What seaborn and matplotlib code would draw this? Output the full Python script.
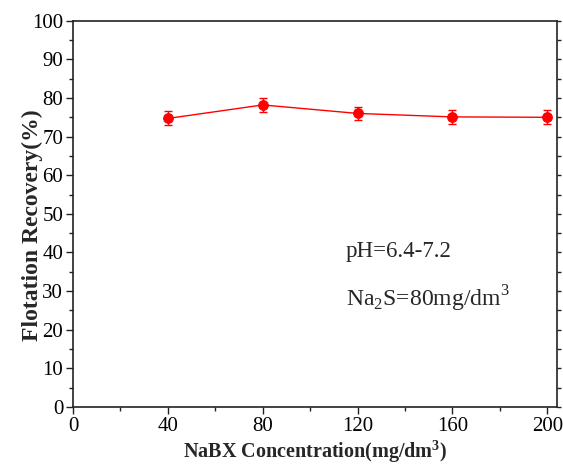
import matplotlib
matplotlib.use("Agg")
import matplotlib.pyplot as plt
import seaborn as sns
import pandas as pd
from matplotlib.ticker import MultipleLocator

concentration = [40, 80, 120, 160, 200]
recovery = [74.7, 78.2, 76.0, 75.1, 75.0]
error = [1.8, 1.8, 1.7, 1.8, 1.8]

sns.set_style("ticks")
plt.rcParams['font.family'] = ['Liberation Serif', 'DejaVu Serif']
plt.rcParams['mathtext.fontset'] = 'custom'
plt.rcParams['mathtext.rm'] = 'Liberation Serif'
plt.rcParams['mathtext.bf'] = 'Liberation Serif:bold'

df = pd.DataFrame({"c": concentration, "r": recovery})

fig = plt.figure(figsize=(5.63, 4.71), dpi=100)
ax = fig.add_axes([0.1297, 0.1359, 0.9888 - 0.1297, 0.956 - 0.1359])

sns.lineplot(data=df, x="c", y="r", ax=ax, color="#ff0000", linewidth=1.0,
             marker="o", markersize=7, markeredgecolor="#ff0000")
ax.errorbar(concentration, recovery, yerr=error, fmt="none", ecolor="#ff0000",
            elinewidth=1.0, capsize=3, capthick=1.0)

ax.set_xlim(0, 204)
ax.set_ylim(0, 100)
ax.xaxis.set_major_locator(MultipleLocator(40))
ax.xaxis.set_minor_locator(MultipleLocator(20))
ax.yaxis.set_major_locator(MultipleLocator(10))
ax.yaxis.set_minor_locator(MultipleLocator(5))

for s in ax.spines.values():
    s.set_visible(True)
    s.set_linewidth(1.2)
    s.set_color("#222222")

ax.tick_params(axis="both", which="major", direction="out", length=5, width=1,
               labelsize=15, colors="#222222", labelcolor="black", pad=2)
ax.tick_params(axis="both", which="minor", direction="out", length=3, width=1,
               colors="#222222")
ax.tick_params(axis="y", which="both", right=True, labelright=False)
# right-side ticks all short
for t in ax.yaxis.get_major_ticks():
    t.tick2line.set_markersize(3)

ax.set_xlabel("NaBX Concentration(mg/dm$\\mathbf{^3}$)", fontsize=14.5,
              fontweight="bold", labelpad=2)
ax.set_ylabel("Flotation Recovery(%)", fontsize=17, fontweight="bold")
ax.yaxis.set_label_coords(-0.063, 0.47)

ax.text(115, 38.8, "pH=6.4-7.2", fontsize=16.5)
ax.text(115, 26.1, "Na$_2$S=80mg/dm$^3$", fontsize=17)

fig.savefig("out.png", dpi=100)
